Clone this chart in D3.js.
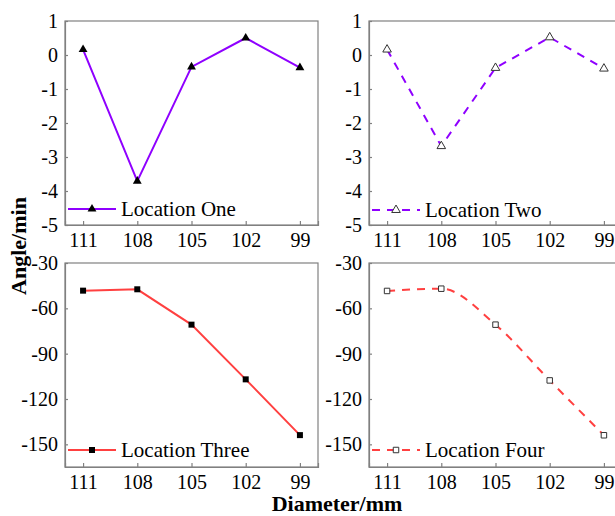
<!DOCTYPE html>
<html><head><meta charset="utf-8">
<script src="https://cdn.jsdelivr.net/npm/d3@7"></script>
<style>body{margin:0;background:#fff}svg{display:block}
text{font-family:"Liberation Serif","DejaVu Serif",serif;}</style>
</head><body>
<svg id="c" width="615" height="516"></svg>
<script>
const diameters = [111, 108, 105, 102, 99];
const xTicks = [111, 108, 105, 102, 99];
const locOne = [0.16, -3.71, -0.35, 0.50, -0.37];
const locTwo = [0.16, -2.68, -0.38, 0.52, -0.40];
const locThree = [-48.3, -47.4, -70.8, -107.0, -143.9];
const locFour = [-48.5, -47.0, -70.8, -107.7, -144.0];
const yTicksTop = [1, 0, -1, -2, -3, -4, -5];
const yTicksBottom = [-30, -60, -90, -120, -150];
const legendNames = ["Location One", "Location Two", "Location Three", "Location Four"];

const svg = d3.select("#c");
const FONT = "Liberation Serif";
const purple = "#8f00ff", red = "#ff4040", axisCol = "#808080";

const panels = [
  {vals: locOne, name: legendNames[0], left: 65, top: 21, ydom: [-5, 1], yt: yTicksTop, color: purple, dash: null, marker: "tri", fill: true, curve: d3.curveLinear, ly: 209},
  {vals: locTwo, name: legendNames[1], left: 369, top: 21, ydom: [-5, 1], yt: yTicksTop, color: purple, dash: "8,7", marker: "tri", fill: false, curve: d3.curveLinear, ly: 210},
  {vals: locThree, name: legendNames[2], left: 65, top: 263, ydom: [-165, -30], yt: yTicksBottom, color: red, dash: null, marker: "sq", fill: true, curve: d3.curveLinear, ly: 450},
  {vals: locFour, name: legendNames[3], left: 369, top: 263, ydom: [-165, -30], yt: yTicksBottom, color: red, dash: "8,7", marker: "sq", fill: false, curve: d3.curveMonotoneX, ly: 450}
];
const W = 253, H = 204;

panels.forEach(p => {
  const g = svg.append("g").attr("transform", `translate(${p.left},${p.top})`);
  const x = d3.scaleLinear().domain([112, 98]).range([0, W]);
  const y = d3.scaleLinear().domain(p.ydom).range([H, 0]);

  g.append("rect").attr("x", 0).attr("y", 0).attr("width", W).attr("height", H)
    .attr("fill", "none").attr("stroke", axisCol).attr("stroke-width", 1.2);

  const xa = g.append("g").attr("transform", `translate(0,${H})`)
    .call(d3.axisBottom(x).tickValues(xTicks).tickSize(-4).tickPadding(8).tickFormat(d3.format("d")));
  const ya = g.append("g")
    .call(d3.axisLeft(y).tickValues(p.yt).tickSize(-3).tickPadding(7).tickFormat(d3.format("d")));
  [xa, ya].forEach(a => {
    a.attr("font-family", null).attr("font-size", null);
    a.select(".domain").attr("stroke", axisCol).attr("stroke-width", 1.2);
    a.selectAll(".tick line").attr("stroke", axisCol).attr("stroke-width", 1.2);
    a.selectAll(".tick text").attr("fill", "#000").style("font-family", FONT).style("font-size", "20px");
  });
  ya.selectAll(".tick text").text(d => String(d));

  const data = diameters.map((d, i) => [d, p.vals[i]]);
  const line = d3.line().x(d => x(d[0])).y(d => y(d[1])).curve(p.curve);
  g.append("path").datum(data).attr("d", line).attr("fill", "none")
    .attr("stroke", p.color).attr("stroke-width", 2)
    .attr("stroke-dasharray", p.dash);

  const sym = p.marker === "tri" ? d3.symbol().type(d3.symbolTriangle).size(p.fill ? 34 : 32)
                                 : d3.symbol().type(d3.symbolSquare).size(p.fill ? 36 : 30);
  const drawMarker = (sel) => sel.attr("d", sym())
    .attr("fill", p.fill ? "#000" : "#fff")
    .attr("stroke", p.fill ? "none" : "#333")
    .attr("stroke-width", 1);
  g.selectAll(".m").data(data).join("path").attr("class", "m")
    .attr("transform", d => `translate(${x(d[0])},${y(d[1])})`).call(drawMarker);

  const ly = p.ly - p.top;
  const lg = g.append("g");
  lg.append("line").attr("x1", 3).attr("x2", 51).attr("y1", ly).attr("y2", ly)
    .attr("stroke", p.color).attr("stroke-width", 2).attr("stroke-dasharray", p.dash);
  lg.append("path").attr("transform", `translate(27,${ly})`).call(drawMarker);
  lg.append("text").attr("x", 56).attr("y", ly + 7).text(p.name)
    .style("font-family", FONT).style("font-size", "21px").attr("fill", "#000");
});

svg.append("text").attr("transform", "translate(26,246) rotate(-90)")
  .attr("text-anchor", "middle").text("Angle/min")
  .style("font-family", FONT).style("font-size", "22px").style("font-weight", "bold");
svg.append("text").attr("x", 337).attr("y", 511).attr("text-anchor", "middle").text("Diameter/mm")
  .style("font-family", FONT).style("font-size", "22px").style("font-weight", "bold");
</script>
</body></html>
